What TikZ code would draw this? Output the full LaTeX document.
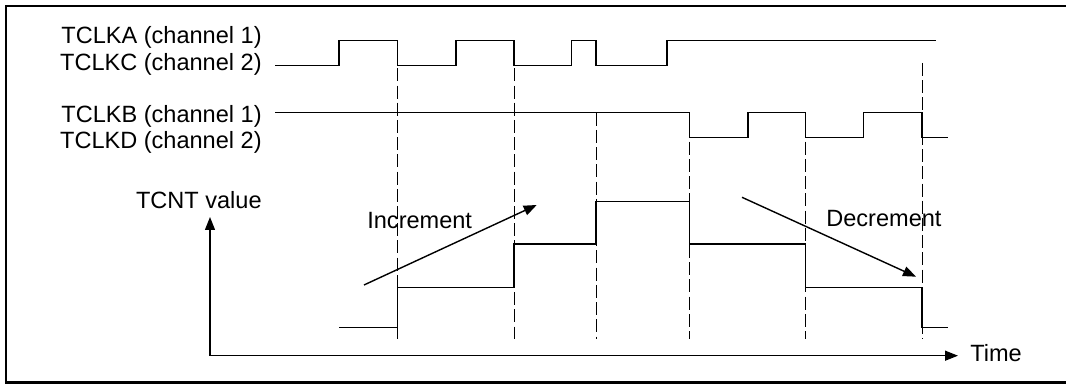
\documentclass[tikz,border=0pt]{standalone}
\usepackage{fontspec}
\setmainfont{Liberation Sans}
\usetikzlibrary{arrows.meta}

\tikzset{
  wave/.style={line width=0.85pt},
  guide/.style={line width=0.5pt, dash pattern=on 7.4pt off 2.4pt},
  axisline/.style={line width=0.8pt, -{Triangle[length=0.26cm,width=0.2cm]}},
  lbl/.style={font=\fontsize{13.4}{15}\selectfont, inner sep=0pt},
}

\begin{document}
\begin{tikzpicture}[x=0.02cm,y=-0.02cm]
  \useasboundingbox (0,0) rectangle (1066,384);

  % ===== Marco =====
  \draw[line width=1.2pt] (1070,5.7) -- (5.7,5.7) -- (5.7,382.5) -- (1070,382.5);

  % ===== Parámetros =====
  \def\xstart{275}
  \def\aHigh{40.7}
  \def\aLow{65.7}
  \def\bHigh{112.7}
  \def\bLow{137.3}

  % Niveles del contador
  \def\cntA{327.7}
  \def\cntB{287.7}
  \def\cntC{244}
  \def\cntD{201.7}

  % Flancos
  \def\tOne{397.7}
  \def\tTwo{514}
  \def\tThree{596}
  \def\tFour{689.6}
  \def\tFive{805.5}
  \def\tSix{922}
  \def\tEnd{947.6}

  % ===== Etiquetas =====
  \node[lbl, anchor=base east] (labA) at (262,43.3)  {TCLKA (channel 1)};
  \node[lbl, anchor=base east] (labC) at (262,70.7)  {TCLKC (channel 2)};
  \node[lbl, anchor=base east] (labB) at (262,122.3) {TCLKB (channel 1)};
  \node[lbl, anchor=base east] (labD) at (262,148.3) {TCLKD (channel 2)};
  \node[lbl, anchor=base east] (labCnt) at (262,208.3) {TCNT value};

  % ===== Señales =====
  \draw[wave] (\xstart,\aLow) -| (339,\aHigh) -| (\tOne,\aLow) -| (456,\aHigh)
        -| (\tTwo,\aLow) -| (571.5,\aHigh) -| (\tThree,\aLow) -| (667,\aHigh)
        -- (936,\aHigh);
  \draw[wave] (\xstart,\bHigh) -| (\tFour,\bLow) -| (748,\bHigh) -| (\tFive,\bLow)
        -| (863.7,\bHigh) -| (\tSix,\bLow) -- (\tEnd,\bLow);

  % ===== Valor TCNT =====
  \draw[wave] (339,\cntA) -| (\tOne,\cntB) -| (\tTwo,\cntC) -| (\tThree,\cntD)
        -| (\tFour,\cntC) -| (\tFive,\cntB) -| (\tSix,\cntA) -- (\tEnd,\cntA);

  % ===== Líneas guía =====
  \foreach \x/\ytop in {\tOne/68.3, \tTwo/68.3, \tThree/112.7,
                        \tFour/141.7, \tFive/141.7, \tSix/63}{
    \draw[guide] (\x,\ytop) -- (\x,339);
  }

  % ===== Ejes =====
  \coordinate (origin) at (210,355.7);
  \coordinate (yTop)   at (210,217);
  \coordinate (xEnd)   at (958,355.7);
  \draw[axisline] (origin) -- (yTop);
  \draw[axisline] (origin) -- (xEnd);
  \node[lbl, anchor=base west] (timeLab) at (970,362) {Time};

  % ===== Incremento / decremento =====
  \coordinate (incStart) at (364,285);
  \coordinate (incEnd)   at (536.7,205);
  \coordinate (decStart) at (742,197.3);
  \coordinate (decEnd)   at (916,276.7);
  \draw[axisline] (incStart) -- (incEnd);
  \draw[axisline] (decStart) -- (decEnd);
  \node[lbl, anchor=base west] (incLab) at (367,228.3) {Increment};
  \node[lbl, anchor=base west] (decLab) at (826,226.7) {Decrement};

\end{tikzpicture}
\end{document}
